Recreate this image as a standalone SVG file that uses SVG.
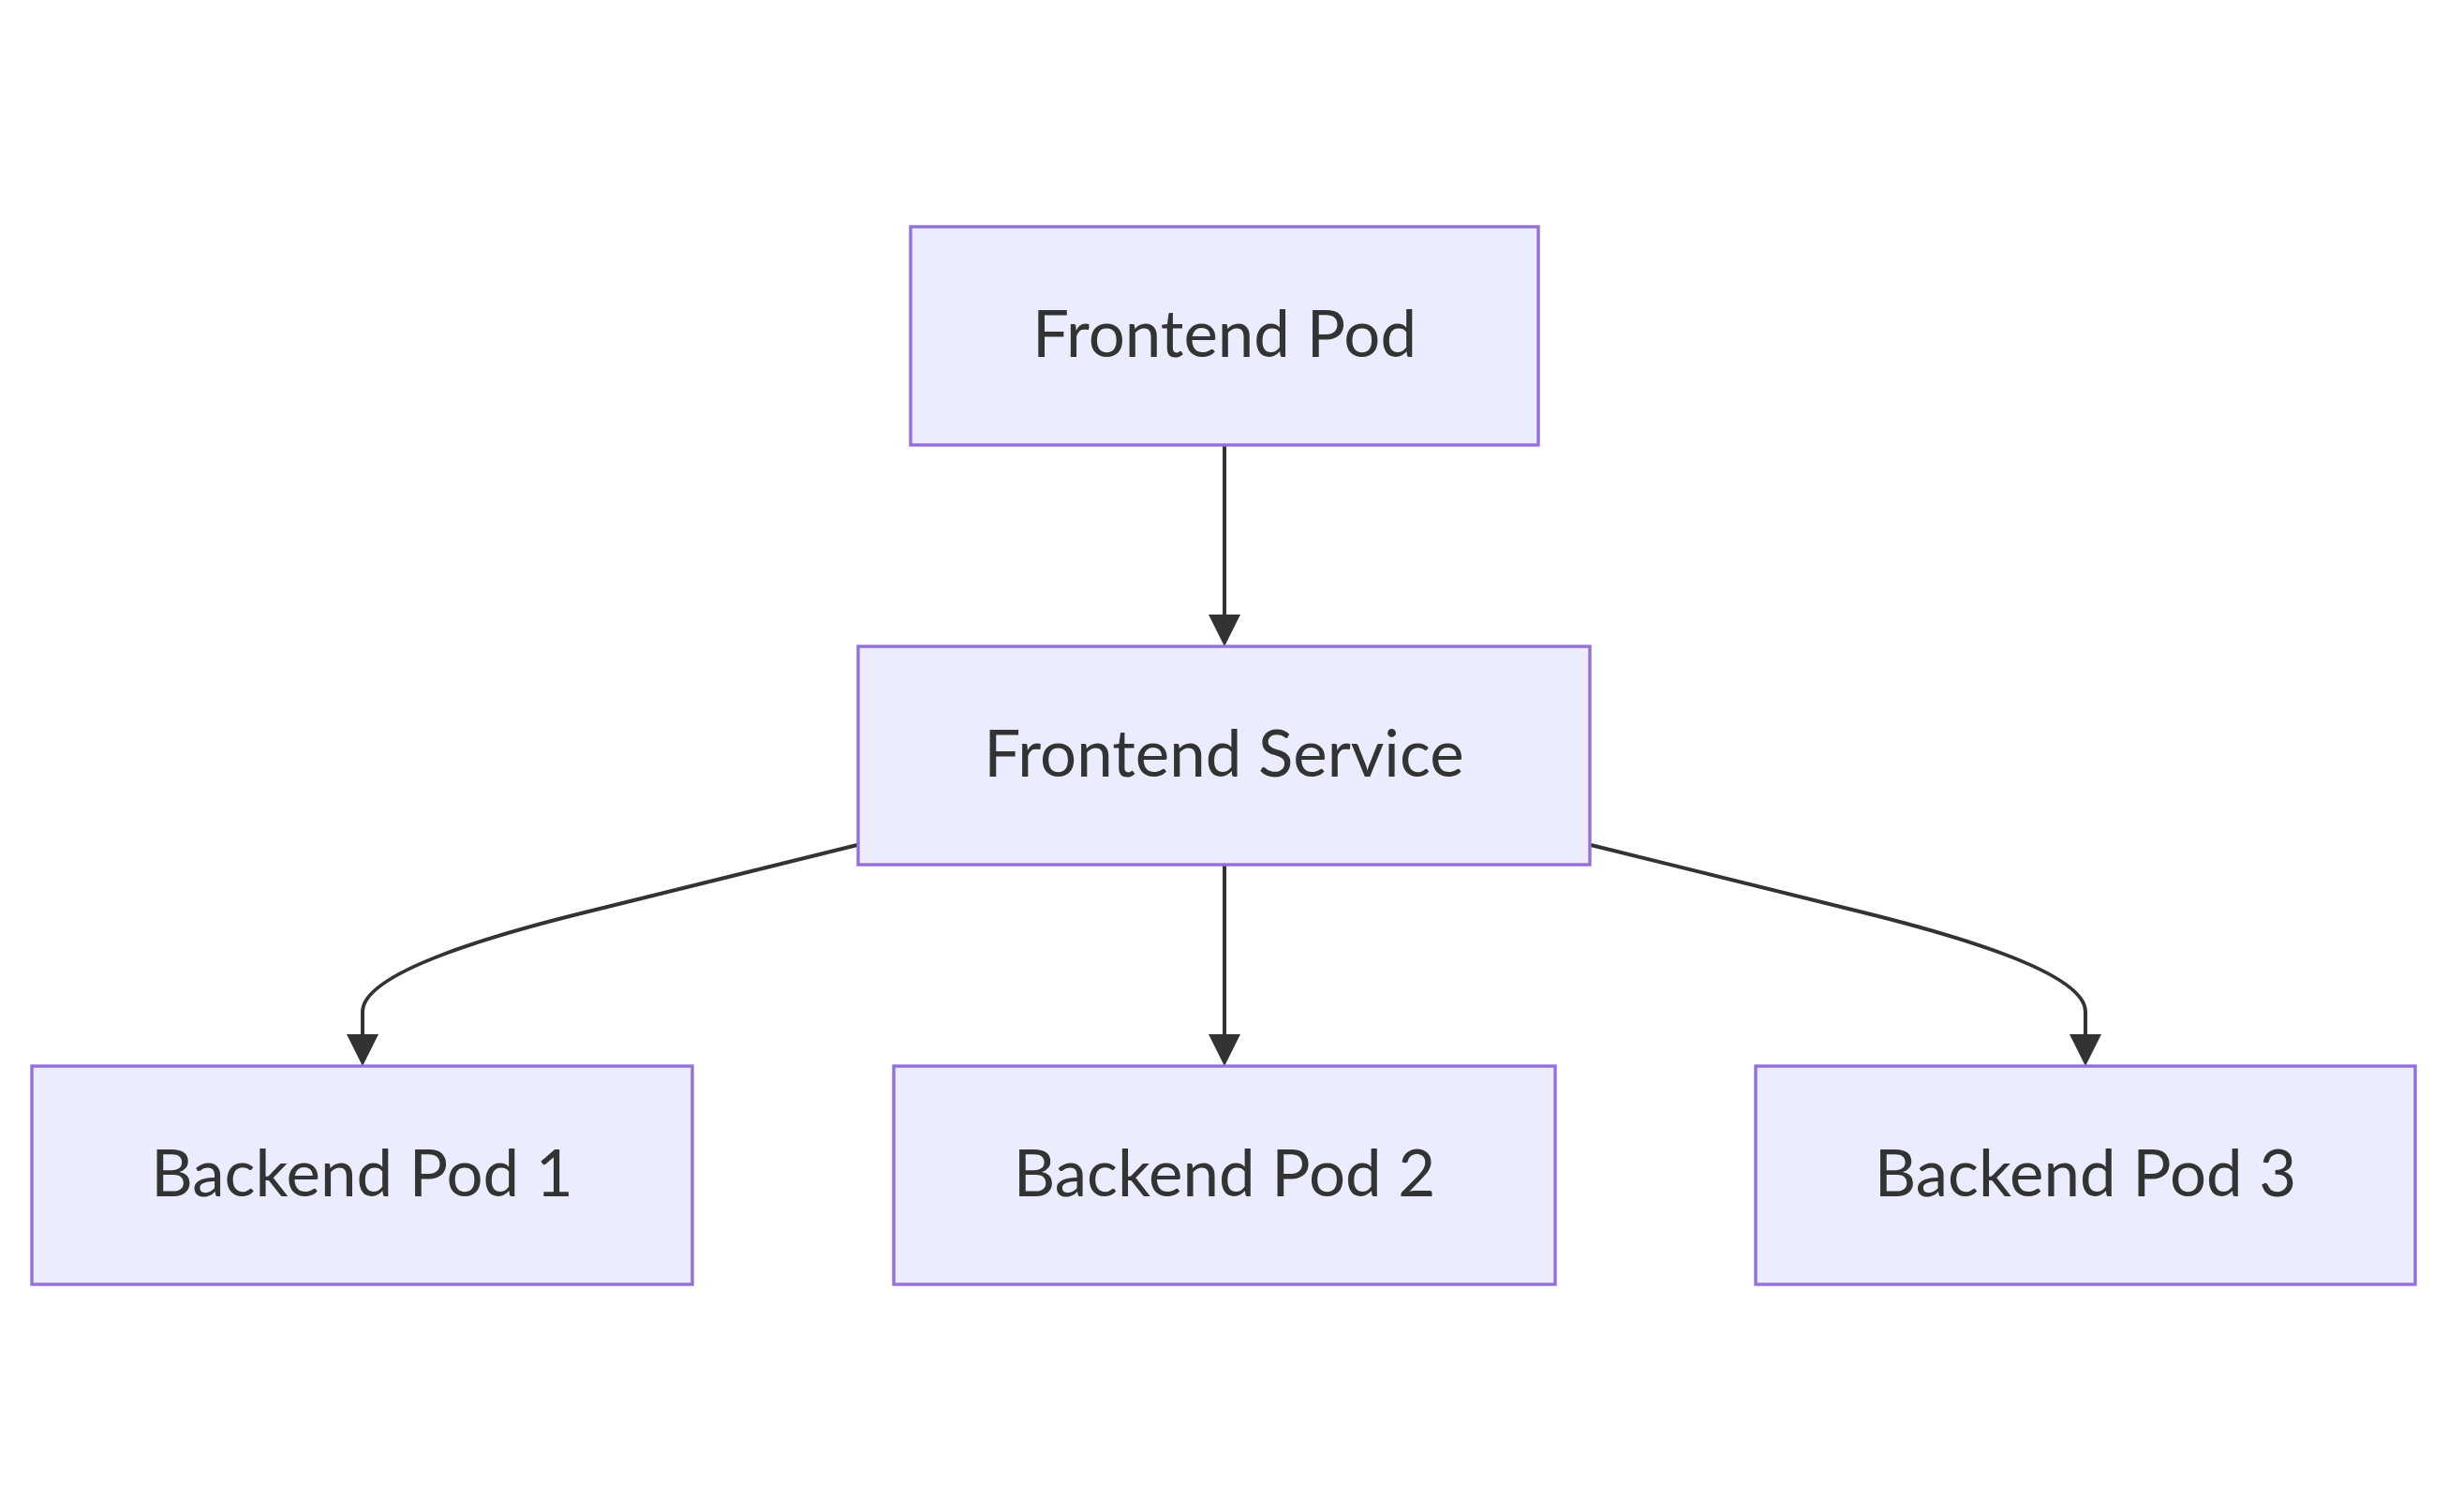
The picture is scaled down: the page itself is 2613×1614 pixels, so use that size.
<svg xmlns="http://www.w3.org/2000/svg" width="2613" height="1614" viewBox="0 0 2613 1614">
<style>
.node rect{fill:#ECECFF;stroke:#9370DB;stroke-width:3.4}
.node text{font-family:Lato,"Open Sans","Liberation Sans",sans-serif;font-size:69px;fill:#333333;text-anchor:middle}
.edge{fill:none;stroke:#333333;stroke-width:4;marker-end:url(#arrow)}
</style>
<defs>
<marker id="arrow" viewBox="0 0 10 10" markerUnits="userSpaceOnUse" markerWidth="34" markerHeight="34" refX="7.65" refY="5" orient="auto">
<path d="M0,0 L10,5 L0,10 z" fill="#333333"/>
</marker>
</defs>
<rect width="2613" height="1614" fill="#ffffff"/>
<g id="connectors">
<path class="edge" d="M1307,475 L1307,682"/>
<path class="edge" d="M1307,923 L1307,1130"/>
<path class="edge" d="M915,902 L620,975 Q387,1033 387,1080 L387,1130"/>
<path class="edge" d="M1698,902 L1993,975 Q2226,1033 2226,1080 L2226,1130"/>
</g>
<g id="frontend-pod" class="node">
<rect x="972" y="242" width="670" height="233"/>
<text x="1307" y="381">Frontend Pod</text>
</g>
<g id="frontend-service" class="node">
<rect x="916" y="690" width="781" height="233"/>
<text x="1306.5" y="829">Frontend Service</text>
</g>
<g id="backend-pod-1" class="node">
<rect x="34" y="1138" width="705" height="233"/>
<text x="386.5" y="1277">Backend Pod 1</text>
</g>
<g id="backend-pod-2" class="node">
<rect x="954" y="1138" width="706" height="233"/>
<text x="1307" y="1277">Backend Pod 2</text>
</g>
<g id="backend-pod-3" class="node">
<rect x="1874" y="1138" width="704" height="233"/>
<text x="2226" y="1277">Backend Pod 3</text>
</g>
</svg>
